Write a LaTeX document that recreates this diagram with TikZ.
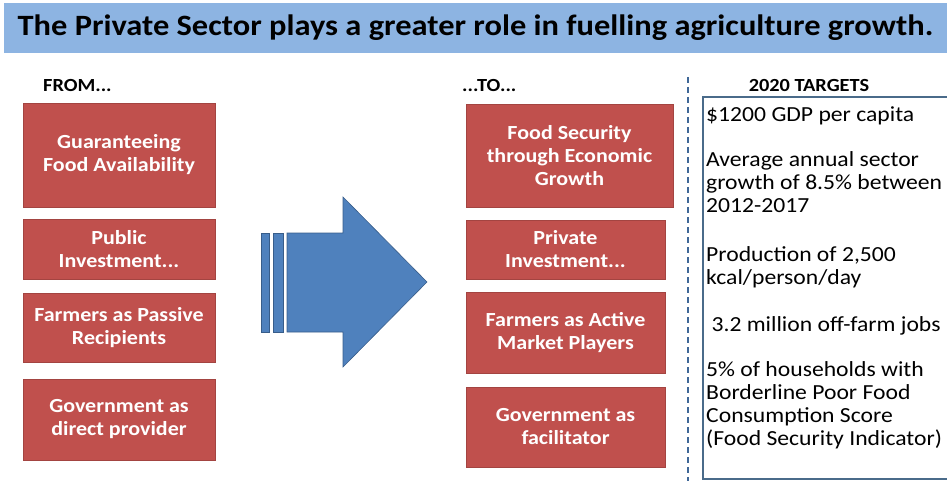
\documentclass[tikz,border=0pt]{standalone}
\usepackage{fontspec}
\setmainfont{Carlito}[FakeStretch=1.1]
\usetikzlibrary{positioning}
\definecolor{boxred}{RGB}{192,80,77}
\definecolor{arrowblue}{RGB}{79,129,189}
\definecolor{arrowedge}{RGB}{56,93,138}
\definecolor{barblue}{RGB}{141,180,226}
\definecolor{frameblue}{RGB}{74,107,138}

\begin{document}
\begin{tikzpicture}[x=1pt,y=-1pt,
        redbox/.style={rectangle,fill=boxred,draw=boxred!85!black,line width=0.6pt,
          text=white,align=center,inner sep=0pt,
          font=\bfseries\fontsize{20}{23}\selectfont},
        colhead/.style={font=\bfseries\fontsize{18.5}{20}\selectfont,inner sep=0pt},
        titlebar/.style={rectangle,fill=barblue,inner sep=0pt,
          font=\bfseries\fontsize{29.5}{32}\selectfont}]
        \useasboundingbox (0,0) rectangle (947,481);
        \node[titlebar,minimum width=943pt,minimum height=50pt] (title) at (475.5,28)
          {The Private Sector plays a greater role in fuelling agriculture growth.};
        \node[colhead,anchor=west] (from) at (43,85) {FROM...};
        \node[colhead,anchor=west] (to) at (462,85) {...TO...};
        \node[colhead] (targets) at (809,85) {2020 TARGETS};

        \node[redbox,minimum width=192pt,minimum height=104pt] (from1) at (119,155)
          {Guaranteeing\\Food Availability};
        \node[redbox,minimum width=192pt,minimum height=60pt] (from2) at (119,249)
          {Public\\Investment...};
        \node[redbox,minimum width=192pt,minimum height=69pt] (from3) at (119,327.5)
          {Farmers as Passive\\Recipients};
        \node[redbox,minimum width=192pt,minimum height=81pt] (from4) at (119,419.5)
          {Government as\\direct provider};

        \node[redbox,minimum width=207pt,minimum height=103pt] (to1) at (569.5,155.5)
          {Food Security\\through Economic\\Growth};
        \node[redbox,minimum width=199pt,minimum height=59pt] (to2) at (565.5,249.5)
          {Private\\Investment...};
        \node[redbox,minimum width=199pt,minimum height=81pt] (to3) at (565.5,332.5)
          {Farmers as Active\\Market Players};
        \node[redbox,minimum width=199pt,minimum height=80pt] (to4) at (565.5,427)
          {Government as\\facilitator};

        \fill[arrowblue,draw=arrowedge,line width=0.6pt] (261,233) rectangle (269,332);
        \fill[arrowblue,draw=arrowedge,line width=0.6pt] (273,233) rectangle (283,332);
        \fill[arrowblue,draw=arrowedge,line width=0.6pt] (287,233) -- (343,233) -- (343,197)
          -- (427,282) -- (343,367) -- (343,332) -- (287,332) -- cycle;

        \draw[arrowblue!80!black,line width=1.5pt,dash pattern=on 6pt off 4pt] (688,77) -- (688,481);
        \draw[frameblue,line width=1.2pt] (703,97) rectangle (952,479);
        \node[anchor=north west,align=left,inner sep=0pt,
          font=\fontsize{21.5}{23}\selectfont] (goals) at (706,107)
          {\$1200 GDP per capita\\[22pt]
           Average annual sector\\growth of 8.5\% between\\2012-2017\\[26pt]
           Production of 2,500\\kcal/person/day\\[24pt]
           \ 3.2 million off-farm jobs\\[22pt]
           5\% of households with\\Borderline Poor Food\\Consumption Score\\(Food Security Indicator)};
    \end{tikzpicture}
\end{document}
